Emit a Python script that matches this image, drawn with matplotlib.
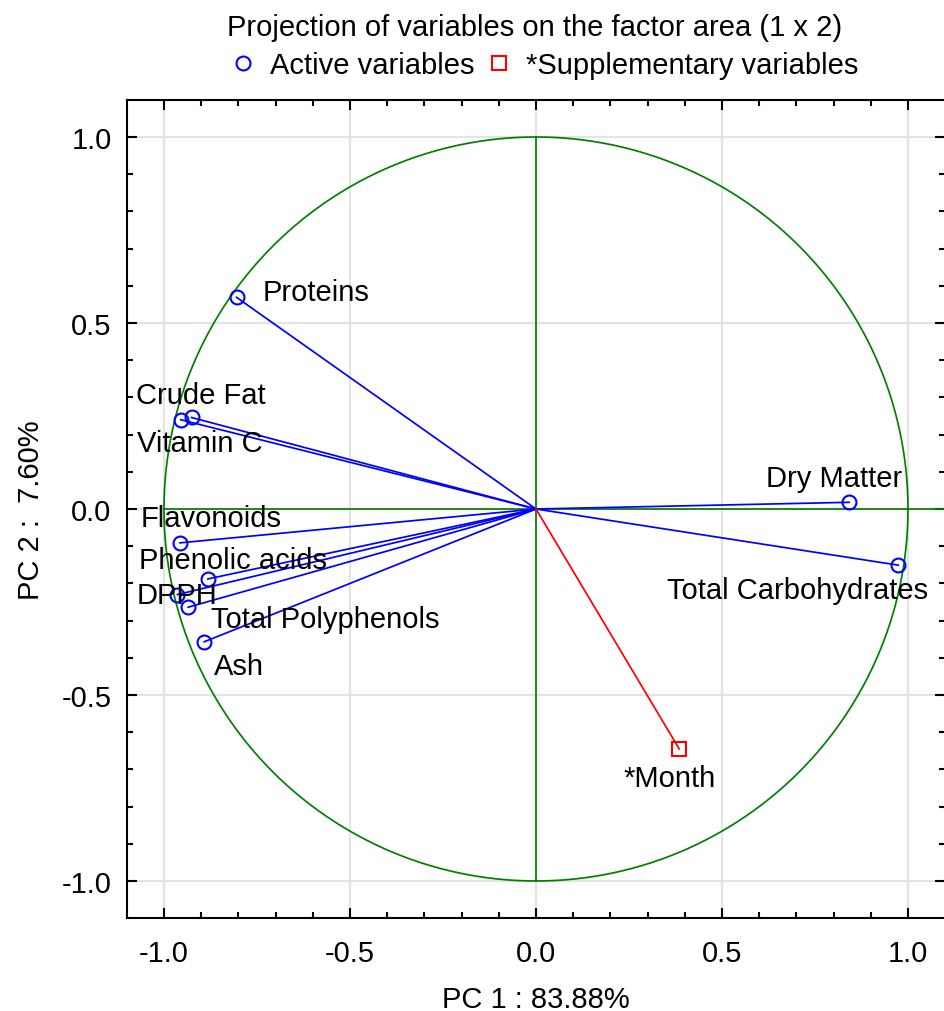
import numpy as np
import matplotlib
matplotlib.use("Agg")
import matplotlib.pyplot as plt
from matplotlib.lines import Line2D

plt.rcParams['font.family'] = ['Liberation Sans', 'DejaVu Sans']

# Active variables
active_names = ["Proteins", "Crude Fat", "Vitamin C", "Flavonoids", "Phenolic acids",
                "DPPH", "Total Polyphenols", "Ash", "Dry Matter", "Total Carbohydrates"]
active_pc1 = [-0.805, -0.926, -0.955, -0.957, -0.882, -0.964, -0.935, -0.892, 0.842, 0.974]
active_pc2 = [0.569, 0.246, 0.240, -0.091, -0.188, -0.230, -0.264, -0.357, 0.018, -0.151]

# Supplementary variables
supp_names = ["*Month"]
supp_pc1 = [0.385]
supp_pc2 = [-0.645]

tick_values = [-1.0, -0.5, 0.0, 0.5, 1.0]
tick_labels = ["-1.0", "-0.5", "0.0", "0.5", "1.0"]

# label offsets (pixels): left edge / vertical centre relative to point
active_offsets = [(26, 5), (-56, 22), (-44, -23), (-39, 25), (-69, 19),
                  (-41, 0), (23, -12), (10, -24), (-83, 24), (-231, -25)]
supp_offsets = [(-56, -29)]

W, H = 944, 1012
fig = plt.figure(figsize=(W / 100, H / 100), dpi=100)
ppu = 372.0
x0, y0 = 536.0, 510.0
left = x0 - 1.1 * ppu
bottom_px = y0 + 1.1 * ppu
ax = fig.add_axes([left / W, (H - bottom_px) / H, 2.2 * ppu / W, 2.2 * ppu / H])
ax.set_xlim(-1.1, 1.1)
ax.set_ylim(-1.1, 1.1)

fs = 21
green = '#008000'
blue = '#0000ff'
red = '#ff0000'
lw = 1.25
ms = 10

ax.grid(True, color='#e3e3e3', linewidth=1.5, zorder=0)
ax.set_axisbelow(True)

t = np.linspace(0, 2 * np.pi, 721)
ax.plot(np.cos(t), np.sin(t), color=green, lw=lw, zorder=1)
ax.plot([-1, 1.1], [0, 0], color=green, lw=lw, zorder=1)
ax.plot([0, 0], [-1, 1], color=green, lw=lw, zorder=1)

for x, y in zip(active_pc1, active_pc2):
    ax.plot([0, x], [0, y], color=blue, lw=lw, zorder=2)
ax.plot(active_pc1, active_pc2, 'o', ls='none', mfc='none', mec=blue,
        ms=ms, mew=1.5, zorder=3)
for x, y in zip(supp_pc1, supp_pc2):
    ax.plot([0, x], [0, y], color=red, lw=lw, zorder=2)
ax.plot(supp_pc1, supp_pc2, 's', ls='none', mfc='none', mec=red,
        ms=ms, mew=1.5, zorder=3)

for n, x, y, off in zip(active_names, active_pc1, active_pc2, active_offsets):
    ax.annotate(n, (x, y), xytext=off, textcoords='offset pixels',
                ha='left', va='center', fontsize=fs, zorder=4)
for n, x, y, off in zip(supp_names, supp_pc1, supp_pc2, supp_offsets):
    ax.annotate(n, (x, y), xytext=off, textcoords='offset pixels',
                ha='left', va='center', fontsize=fs, zorder=4)

ax.set_xticks(tick_values)
ax.set_yticks(tick_values)
ax.set_xticklabels(tick_labels)
ax.set_yticklabels(tick_labels)
ax.set_xticks(np.arange(-1.0, 1.05, 0.1), minor=True)
ax.set_yticks(np.arange(-1.0, 1.05, 0.1), minor=True)
ax.tick_params(which='both', direction='in', top=True, right=True, labelsize=fs, width=1.5)
ax.tick_params(which='major', length=7)
ax.tick_params(which='minor', length=4)
ax.tick_params(axis='x', which='major', pad=15)
ax.tick_params(axis='y', which='major', pad=11)
for s in ax.spines.values():
    s.set_linewidth(1.5)

def fx(px):
    return px / W

def fy(py):
    return 1 - py / H

# axis labels
fig.text(fx(x0), fy(1008), "PC 1 : 83.88%", ha='center', va='baseline', fontsize=fs)
fig.text(fx(39), fy(y0), "PC 2 :  7.60%", ha='center', va='baseline', fontsize=fs,
         rotation=90, rotation_mode='anchor')

# title and legend
fig.text(fx(535), fy(36), "Projection of variables on the factor area (1 x 2)",
         ha='center', va='baseline', fontsize=fs)
fig.add_artist(Line2D([fx(243)], [fy(64)], transform=fig.transFigure, marker='o', ls='none',
                      mfc='none', mec=blue, ms=ms, mew=1.5))
fig.text(fx(270), fy(74), "Active variables", ha='left', va='baseline', fontsize=fs)
fig.add_artist(Line2D([fx(499)], [fy(64)], transform=fig.transFigure, marker='s', ls='none',
                      mfc='none', mec=red, ms=ms, mew=1.5))
fig.text(fx(526), fy(74), "*Supplementary variables", ha='left', va='baseline', fontsize=fs)

fig.savefig("out.png", dpi=100)
